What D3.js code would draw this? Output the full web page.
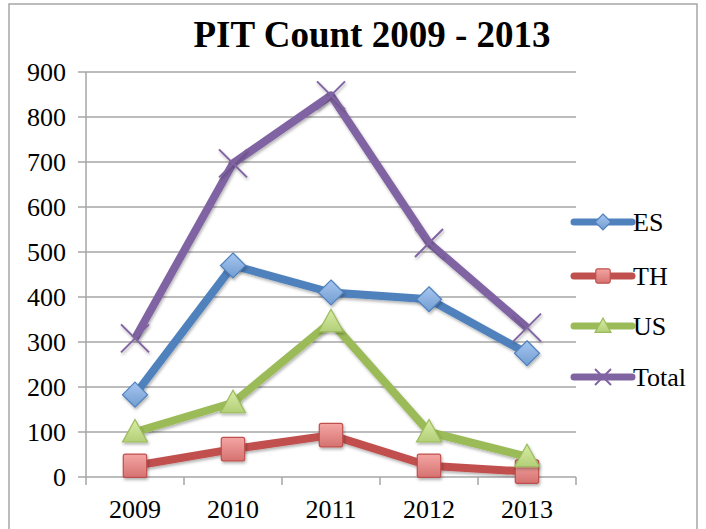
<!DOCTYPE html>
<html>
<head>
<meta charset="utf-8">
<script src="https://cdn.jsdelivr.net/npm/d3@7"></script>
<style>
  body { margin: 0; background: #fff; }
  svg { display: block; }
  svg text { font-family: 'Times New Roman', 'Liberation Serif', 'DejaVu Serif', Times, serif; }
</style>
</head>
<body>
<svg id="chart" width="706" height="529"></svg>
<script>
// ===== DATA =====
const years = ['2009', '2010', '2011', '2012', '2013'];
const esValues = [183, 470, 410, 395, 275];
const thValues = [25, 62, 93, 25, 12];
const usValues = [100, 165, 345, 100, 45];
const totalValues = [308, 697, 848, 520, 332];
const yTicks = [0, 100, 200, 300, 400, 500, 600, 700, 800, 900];

const series = [
    { name: 'ES', values: esValues, color: '#4F81BD', light: '#A7C6F0', marker: 'diamond' },
    { name: 'TH', values: thValues, color: '#C0504D', light: '#F4A6A4', marker: 'square' },
    { name: 'US', values: usValues, color: '#9BBB59', light: '#D7EDA6', marker: 'triangle' },
    { name: 'Total', values: totalValues, color: '#8064A2', light: '#8064A2', marker: 'cross' }
];

const svg = d3.select('#chart');
const plot = { left: 86, right: 576, top: 72, bottom: 477 };

// chart border
svg.append('rect')
    .attr('x', 9).attr('y', 4)
    .attr('width', 688).attr('height', 540)
    .attr('fill', 'none').attr('stroke', '#a6a6a6').attr('stroke-width', 1.5);

// gradients and shadow
const defs = svg.append('defs');
series.forEach((s, i) => {
    const g = defs.append('linearGradient').attr('id', 'grad' + i)
        .attr('x1', 0).attr('y1', 0).attr('x2', 0).attr('y2', 1);
    g.append('stop').attr('offset', '0%').attr('stop-color', s.light);
    g.append('stop').attr('offset', '100%').attr('stop-color', d3.interpolateRgb(s.light, s.color)(0.6));
});
const shadow = defs.append('filter').attr('id', 'shadow')
    .attr('x', '-30%').attr('y', '-30%').attr('width', '160%').attr('height', '160%');
shadow.append('feDropShadow').attr('dx', 1).attr('dy', 2).attr('stdDeviation', 1.5)
    .attr('flood-color', '#000').attr('flood-opacity', 0.3);

// ===== SCALES =====
const x = d3.scaleBand().domain(years).range([plot.left, plot.right]);
const y = d3.scaleLinear().domain([0, 900]).range([plot.bottom, plot.top]);
const cx = d => x(d) + x.bandwidth() / 2;

// gridlines
svg.append('g').selectAll('line').data(yTicks).join('line')
    .attr('x1', plot.left - 8).attr('x2', plot.right)
    .attr('y1', d => y(d)).attr('y2', d => y(d))
    .attr('stroke', '#a6a6a6').attr('stroke-width', 1.5);

// y axis line
svg.append('line')
    .attr('x1', plot.left).attr('x2', plot.left)
    .attr('y1', plot.top).attr('y2', plot.bottom + 8)
    .attr('stroke', '#a6a6a6').attr('stroke-width', 1.5);

// x tick marks
svg.append('g').selectAll('line').data(years).join('line')
    .attr('x1', d => x(d) + x.bandwidth()).attr('x2', d => x(d) + x.bandwidth())
    .attr('y1', plot.bottom).attr('y2', plot.bottom + 8)
    .attr('stroke', '#a6a6a6').attr('stroke-width', 1.5);

// y labels
svg.append('g').selectAll('text').data(yTicks).join('text')
    .attr('x', plot.left - 20).attr('y', d => y(d))
    .attr('dy', '0.33em').attr('text-anchor', 'end')
    .style('font-size', '26px').text(d => d);

// x labels
svg.append('g').selectAll('text').data(years).join('text')
    .attr('x', d => cx(d)).attr('y', plot.bottom + 41)
    .attr('text-anchor', 'middle')
    .style('font-size', '26px').text(d => d);

// title
svg.append('text')
    .attr('x', 372).attr('y', 47)
    .attr('text-anchor', 'middle')
    .style('font-size', '37px').style('font-weight', 'bold')
    .text('PIT Count 2009 - 2013');

// ===== MARKERS =====
function drawMarker(sel, s, i, size) {
    const h = size / 2;
    if (s.marker === 'diamond') {
        sel.append('path').attr('d', `M0,${-h}L${h},0L0,${h}L${-h},0Z`)
            .attr('fill', `url(#grad${i})`).attr('stroke', s.color).attr('stroke-width', 1.2);
    } else if (s.marker === 'square') {
        sel.append('rect').attr('x', -h * 0.9).attr('y', -h * 0.9)
            .attr('width', h * 1.8).attr('height', h * 1.8).attr('rx', 2)
            .attr('fill', `url(#grad${i})`).attr('stroke', s.color).attr('stroke-width', 1.2);
    } else if (s.marker === 'triangle') {
        sel.append('path').attr('d', `M0,${-h}L${h},${h * 0.8}L${-h},${h * 0.8}Z`)
            .attr('fill', `url(#grad${i})`).attr('stroke', s.color).attr('stroke-width', 1.2);
    } else {
        sel.append('path').attr('d', `M${-h},${-h}L${h},${h}M${h},${-h}L${-h},${h}`)
            .attr('stroke', s.color).attr('stroke-width', 2);
    }
}

// ===== LINES =====
const line = d3.line().x((d, j) => cx(years[j])).y(d => y(d));

series.forEach((s, i) => {
    const g = svg.append('g');
    g.append('path').datum(s.values)
        .attr('d', line)
        .attr('fill', 'none').attr('stroke', s.color)
        .attr('stroke-width', 8).attr('stroke-linejoin', 'round')
        .attr('filter', 'url(#shadow)');
    g.selectAll('g.pt').data(s.values).join('g')
        .attr('class', 'pt')
        .attr('transform', (d, j) => `translate(${cx(years[j])},${y(d)})`)
        .attr('filter', 'url(#shadow)')
        .each(function () { drawMarker(d3.select(this), s, i, s.marker === 'cross' ? 28 : (s.marker === 'square' ? 26 : 25)); });
});

// ===== LEGEND =====
const legendY = [222, 276, 326, 377];
series.forEach((s, i) => {
    const g = svg.append('g').attr('transform', `translate(572,${legendY[i]})`);
    g.append('line').attr('x1', 2).attr('x2', 60)
        .attr('stroke', s.color).attr('stroke-width', 7).attr('stroke-linecap', 'round');
    const m = g.append('g').attr('transform', 'translate(31,0)');
    drawMarker(m, s, i, 16);
    g.append('text').attr('x', 61).attr('y', 0).attr('dy', '0.35em')
        .style('font-size', '26px').text(s.name);
});
</script>
</body>
</html>
